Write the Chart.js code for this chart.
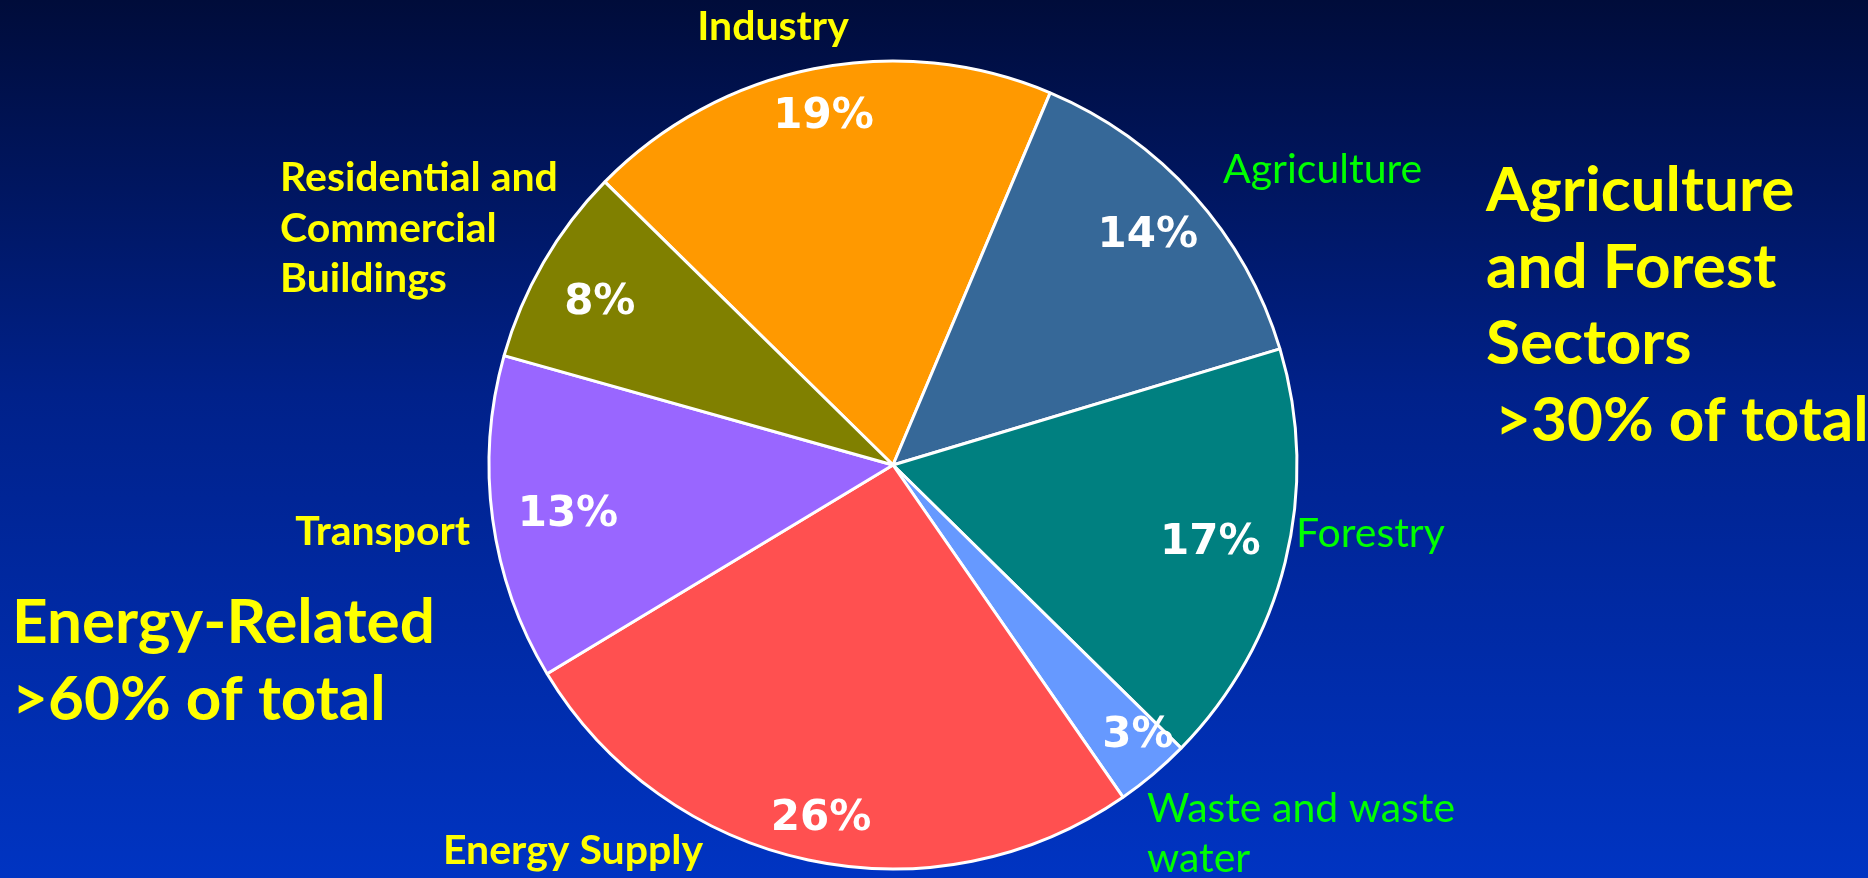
<!DOCTYPE html>
<html>
<head>
<meta charset="utf-8">
<title>Global greenhouse gas emissions by sector</title>
<script src="https://cdn.jsdelivr.net/npm/chart.js@4.4.1/dist/chart.umd.min.js"></script>
<style>
  html, body { margin: 0; padding: 0; background: #001a70; }
  #wrap { position: relative; width: 1868px; height: 878px; overflow: hidden; }
  canvas { display: block; }
</style>
</head>
<body>
<div id="wrap"><canvas id="pie" width="1868" height="878"></canvas></div>
<script>
// Sector shares of total emissions (percent)
const categories = [
  ['Industry'],
  ['Agriculture'],
  ['Forestry'],
  ['Waste and waste', 'water'],
  ['Energy Supply'],
  ['Transport'],
  ['Residential and', 'Commercial', 'Buildings']
];
const shares = [19, 14, 17, 3, 26, 13, 8];
const sliceColors = ['#FF9900', '#366898', '#008080', '#6699FF', '#FF5050', '#9966FF', '#808000'];
// energy-related sectors get yellow captions, land/waste sectors green
const captionColors = ['#FFFF00', '#00FF00', '#00FF00', '#00FF00', '#FFFF00', '#FFFF00', '#FFFF00'];
const groupNotes = [
  { lines: ['Agriculture', 'and Forest', 'Sectors', '>30% of total'] },
  { lines: ['Energy-Related', '>60% of total'] }
];

// ---- layout ----
const W = 1868, H = 878;
const PIE_RADIUS = 404;
// percent label placement: fraction of radius, small angular nudge (deg)
const pctRadius = [0.877, 0.847, 0.809, 0.904, 0.894, 0.814, 0.829];
const pctNudge = [0, 0, 0, -2, -0.6, -1, -1.2];
// caption anchors: x, first baseline, alignment, line step
const captionPos = [
  { x: 773, y: 40, align: 'center', step: 50 },
  { x: 1223, y: 183, align: 'left', step: 50 },
  { x: 1296, y: 547, align: 'left', step: 50 },
  { x: 1147, y: 822, align: 'left', step: 50 },
  { x: 573, y: 864, align: 'center', step: 50 },
  { x: 470, y: 545, align: 'right', step: 50 },
  { x: 280, y: 191, align: 'left', step: 50.5 }
];
const notePos = [
  { x: 1486, y: 211, step: 76.5, indent: [0, 0, 0, 9] },
  { x: 12, y: 643, step: 77, indent: [0, 0] }
];

const backdrop = {
  id: 'backdrop',
  beforeDraw(chart) {
    const ctx = chart.ctx;
    const g = ctx.createLinearGradient(0, 0, 0, H);
    g.addColorStop(0, '#000c3a');
    g.addColorStop(0.45, '#00218a');
    g.addColorStop(1, '#0034c2');
    ctx.save();
    ctx.fillStyle = g;
    ctx.fillRect(0, 0, W, H);
    ctx.restore();
  }
};

const annotations = {
  id: 'annotations',
  afterDraw(chart) {
    const ctx = chart.ctx;
    const meta = chart.getDatasetMeta(0);
    ctx.save();
    ctx.textBaseline = 'middle';
    ctx.textAlign = 'center';
    ctx.fillStyle = '#FFFFFF';
    ctx.font = 'bold 42px "DejaVu Sans", sans-serif';
    meta.data.forEach((arc, i) => {
      const p = arc.getProps(['x', 'y', 'startAngle', 'endAngle', 'outerRadius'], true);
      const mid = (p.startAngle + p.endAngle) / 2 + pctNudge[i] * Math.PI / 180;
      const r = p.outerRadius * pctRadius[i];
      ctx.fillText(shares[i] + '%', p.x + Math.cos(mid) * r, p.y + Math.sin(mid) * r);
    });

    ctx.textBaseline = 'alphabetic';
    categories.forEach((lines, i) => {
      const pos = captionPos[i];
      const isEnergy = captionColors[i] === '#FFFF00';
      ctx.font = (isEnergy ? 'bold ' : '') + '41px Lato, sans-serif';
      ctx.fillStyle = captionColors[i];
      ctx.textAlign = pos.align;
      lines.forEach((ln, k) => ctx.fillText(ln, pos.x, pos.y + k * pos.step));
    });

    ctx.font = 'bold 62px Lato, sans-serif';
    ctx.fillStyle = '#FFFF00';
    ctx.textAlign = 'left';
    groupNotes.forEach((note, i) => {
      const pos = notePos[i];
      note.lines.forEach((ln, k) => ctx.fillText(ln, pos.x + pos.indent[k], pos.y + k * pos.step));
    });
    ctx.restore();
  }
};

new Chart(document.getElementById('pie'), {
  type: 'pie',
  data: {
    labels: categories,
    datasets: [{
      data: shares,
      backgroundColor: sliceColors,
      borderColor: '#FFFFFF',
      borderWidth: 3,
      radius: PIE_RADIUS
    }]
  },
  options: {
    responsive: false,
    animation: false,
    events: [],
    rotation: -45.5,
    layout: { padding: { left: 0, right: 82, top: 52, bottom: 0 } },
    plugins: {
      legend: { display: false },
      tooltip: { enabled: false },
      title: { display: false }
    }
  },
  plugins: [backdrop, annotations]
});
</script>
</body>
</html>
